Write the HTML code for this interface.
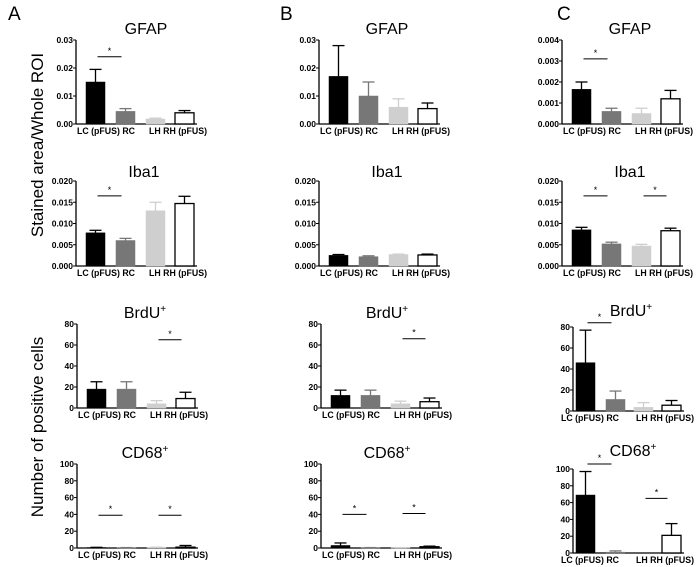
<!DOCTYPE html>
<html><head><meta charset="utf-8"><style>
html,body{margin:0;padding:0;background:#fff;}
svg{display:block;font-family:"Liberation Sans",Arial,sans-serif;}
</style></head><body>
<svg id="fig" width="696" height="567" viewBox="0 0 696 567" xmlns="http://www.w3.org/2000/svg">
<text x="8" y="20" font-size="19">A</text>
<text x="280" y="20" font-size="19">B</text>
<text x="557" y="20" font-size="19">C</text>
<text transform="translate(43,145) rotate(-90)" text-anchor="middle" font-size="17">Stained area/Whole ROI</text>
<text transform="translate(43,427) rotate(-90)" text-anchor="middle" font-size="17">Number of positive cells</text>
</svg>
<script>
// ---- data ----
const titles = ["GFAP","Iba1","BrdU","CD68"];
const groupLabels = ["LC (pFUS) RC","LH RH (pFUS)"];
// means per panel [LC, RC, LH, RH]
const aGFAP = [0.015,0.0045,0.0018,0.004];
const aGFAPerr = [0.0045,0.001,0.0003,0.0008];
const aIba1 = [0.0078,0.006,0.013,0.0147];
const aIba1err = [0.0006,0.0005,0.002,0.0017];
const aBrdU = [18,18,4,9];
const aBrdUerr = [7,7,3,6];
const aCD68 = [0.5,0.3,0.5,1];
const aCD68err = [0.3,0.2,0.5,2];
const bGFAP = [0.017,0.010,0.006,0.0055];
const bGFAPerr = [0.011,0.005,0.003,0.002];
const bIba1 = [0.0025,0.0022,0.0027,0.0026];
const bIba1err = [0.0002,0.0002,0.0001,0.0002];
const bBrdU = [12,12,4,6];
const bBrdUerr = [5,5,2.5,3.5];
const bCD68 = [3,0.3,0.3,1.5];
const bCD68err = [3,0.2,0.2,0.7];
const cGFAP = [0.00165,0.0006,0.0005,0.0012];
const cGFAPerr = [0.00035,0.00015,0.00025,0.0004];
const cIba1 = [0.0085,0.0052,0.0047,0.0083];
const cIba1err = [0.0006,0.0004,0.0004,0.0006];
const cBrdU = [46,11,3.5,5.5];
const cBrdUerr = [31,8,4.5,4.5];
const cCD68 = [69,1,0,21];
const cCD68err = [28,1.5,0,14];
const ticksGFAP = ["0.00","0.01","0.02","0.03"];
const ticksGFAPc = ["0.000","0.001","0.002","0.003","0.004"];
const ticksIba1 = ["0.000","0.005","0.010","0.015","0.020"];
const ticksBrdU = ["0","20","40","60","80"];
const ticksCD68 = ["0","20","40","60","80","100"];
// significance: [pair index, value]
const sigAGFAP = [[0,0.024]];
const sigAIba1 = [[0,0.0165]];
const sigABrdU = [[1,65]];
const sigACD68 = [[0,39],[1,39]];
const sigBBrdU = [[1,66]];
const sigBCD68 = [[0,40],[1,41]];
const sigCGFAP = [[0,0.0031]];
const sigCIba1 = [[0,0.0165],[1,0.0165]];
const sigCBrdU = [[0,84]];
const sigCCD68 = [[0,106],[1,65]];

const offsStd=[10,40,70,99], offsC=[3,33,61,89];
const panels = [
 {id:"a-gfap",t:0,ax:76,top:40,bot:124,ty:34,tx:70,max:0.03,vals:aGFAP,err:aGFAPerr,ticks:ticksGFAP,sig:sigAGFAP,o:offsStd,l:[30,102]},
 {id:"a-iba1",t:1,ax:76,top:181,bot:266,ty:177,tx:68,max:0.02,vals:aIba1,err:aIba1err,ticks:ticksIba1,sig:sigAIba1,o:offsStd,l:[30,102]},
 {id:"a-brdu",t:2,ax:77,top:324,bot:408,ty:318,tx:68,max:80,vals:aBrdU,err:aBrdUerr,ticks:ticksBrdU,sig:sigABrdU,o:offsStd,l:[30,102]},
 {id:"a-cd68",t:3,ax:77,top:464,bot:548,ty:458,tx:68,max:100,vals:aCD68,err:aCD68err,ticks:ticksCD68,sig:sigACD68,o:offsStd,l:[30,102]},
 {id:"b-gfap",t:0,ax:319,top:40,bot:124,ty:34,tx:68,max:0.03,vals:bGFAP,err:bGFAPerr,ticks:ticksGFAP,sig:[],o:offsStd,l:[30,102]},
 {id:"b-iba1",t:1,ax:319,top:181,bot:266,ty:177,tx:68,max:0.02,vals:bIba1,err:bIba1err,ticks:ticksIba1,sig:[],o:offsStd,l:[30,102]},
 {id:"b-brdu",t:2,ax:321,top:324,bot:408,ty:318,tx:66,max:80,vals:bBrdU,err:bBrdUerr,ticks:ticksBrdU,sig:sigBBrdU,o:offsStd,l:[30,102]},
 {id:"b-cd68",t:3,ax:321,top:464,bot:548,ty:458,tx:66,max:100,vals:bCD68,err:bCD68err,ticks:ticksCD68,sig:sigBCD68,o:offsStd,l:[30,102]},
 {id:"c-gfap",t:0,ax:562,top:40,bot:124,ty:34,tx:68,max:0.004,vals:cGFAP,err:cGFAPerr,ticks:ticksGFAPc,sig:sigCGFAP,o:offsStd,l:[30,102]},
 {id:"c-iba1",t:1,ax:562,top:181,bot:266,ty:177,tx:68,max:0.02,vals:cIba1,err:cIba1err,ticks:ticksIba1,sig:sigCIba1,o:offsStd,l:[30,102]},
 {id:"c-brdu",t:2,ax:573,top:327,bot:411,ty:316,tx:58,max:80,vals:cBrdU,err:cBrdUerr,ticks:ticksBrdU,sig:sigCBrdU,o:offsC,l:[17,92]},
 {id:"c-cd68",t:3,ax:573,top:469,bot:553,ty:456,tx:60,max:100,vals:cCD68,err:cCD68err,ticks:ticksCD68,sig:sigCCD68,o:offsC,l:[17,92]}
];
const NS="http://www.w3.org/2000/svg";
const svg=document.getElementById('fig');
function mk(tag,attrs,parent){const e=document.createElementNS(NS,tag);for(const k in attrs)e.setAttribute(k,attrs[k]);(parent||svg).appendChild(e);return e;}
const fills=["#000","#777","#cfcfcf","#fff"];
const errCol=["#000","#777","#cfcfcf","#000"];
const bw=19;
panels.forEach(p=>{
 const g=mk('g',{});
 
 
 const y=v=>p.bot-(v/p.max)*(p.bot-p.top);
 const xb=i=>p.ax+p.o[i];
 const tt=mk('text',{x:p.ax+p.tx,y:p.ty,'text-anchor':'middle','font-size':16},g);
 
 
 tt.textContent=titles[p.t];
 if(p.t>=2){const s=mk('tspan',{dy:-6,'font-size':10},tt);s.textContent='+';}
 const ay=mk('line',{x1:p.ax,y1:p.top,x2:p.ax,y2:p.bot,stroke:'#000','stroke-width':1.3},g);
 
 
 const axx=mk('line',{x1:p.ax,y1:p.bot,x2:xb(3)+bw+3,y2:p.bot,stroke:'#000','stroke-width':1.3},g);
 
 
 const n=p.ticks.length-1;
 p.ticks.forEach((lab,k)=>{
  const v=p.max*k/n, yy=y(v);
  mk('line',{x1:p.ax-3,y1:yy,x2:p.ax,y2:yy,stroke:'#000','stroke-width':1},g);
  const t=mk('text',{x:p.ax-3,y:yy+3,'text-anchor':'end','font-size':8.5,'font-weight':'bold'},g);
  
  
  t.textContent=lab;
 });
 p.vals.forEach((v,i)=>{
  const top=y(v+p.err[i]), cx=xb(i)+bw/2;
  if(p.err[i]>0){
   mk('line',{x1:cx,y1:y(v),x2:cx,y2:top,stroke:errCol[i],'stroke-width':1.3},g);
   mk('line',{x1:cx-6,y1:top,x2:cx+6,y2:top,stroke:errCol[i],'stroke-width':1.3},g);
  }
  const h=Math.max(0,p.bot-y(v));
  const r=mk('rect',{x:xb(i),y:p.bot-h,width:bw,height:h,fill:fills[i],stroke:i==3?'#000':fills[i],'stroke-width':i==3?1.3:0.5},g);
  
  
 });
 p.sig.forEach(s=>{
  const a=xb(s[0]*2)+bw/2+2, b=xb(s[0]*2+1)+bw/2-4, yy=y(s[1]);
  const l=mk('line',{x1:a,y1:yy,x2:b,y2:yy,stroke:'#000','stroke-width':1},g);
  
  
  const st=mk('text',{x:(a+b)/2,y:yy-3,'text-anchor':'middle','font-size':9},g);
  
  
  st.textContent='*';
 });
 [0,1].forEach(k=>{
  const t=mk('text',{x:p.ax+p.l[k],y:p.bot+10,'text-anchor':'middle','font-size':9.5,'font-weight':'bold',textLength:58,lengthAdjust:'spacingAndGlyphs'},g);
  
  
  t.textContent=groupLabels[k];
 });
});
</script>
</body></html>
